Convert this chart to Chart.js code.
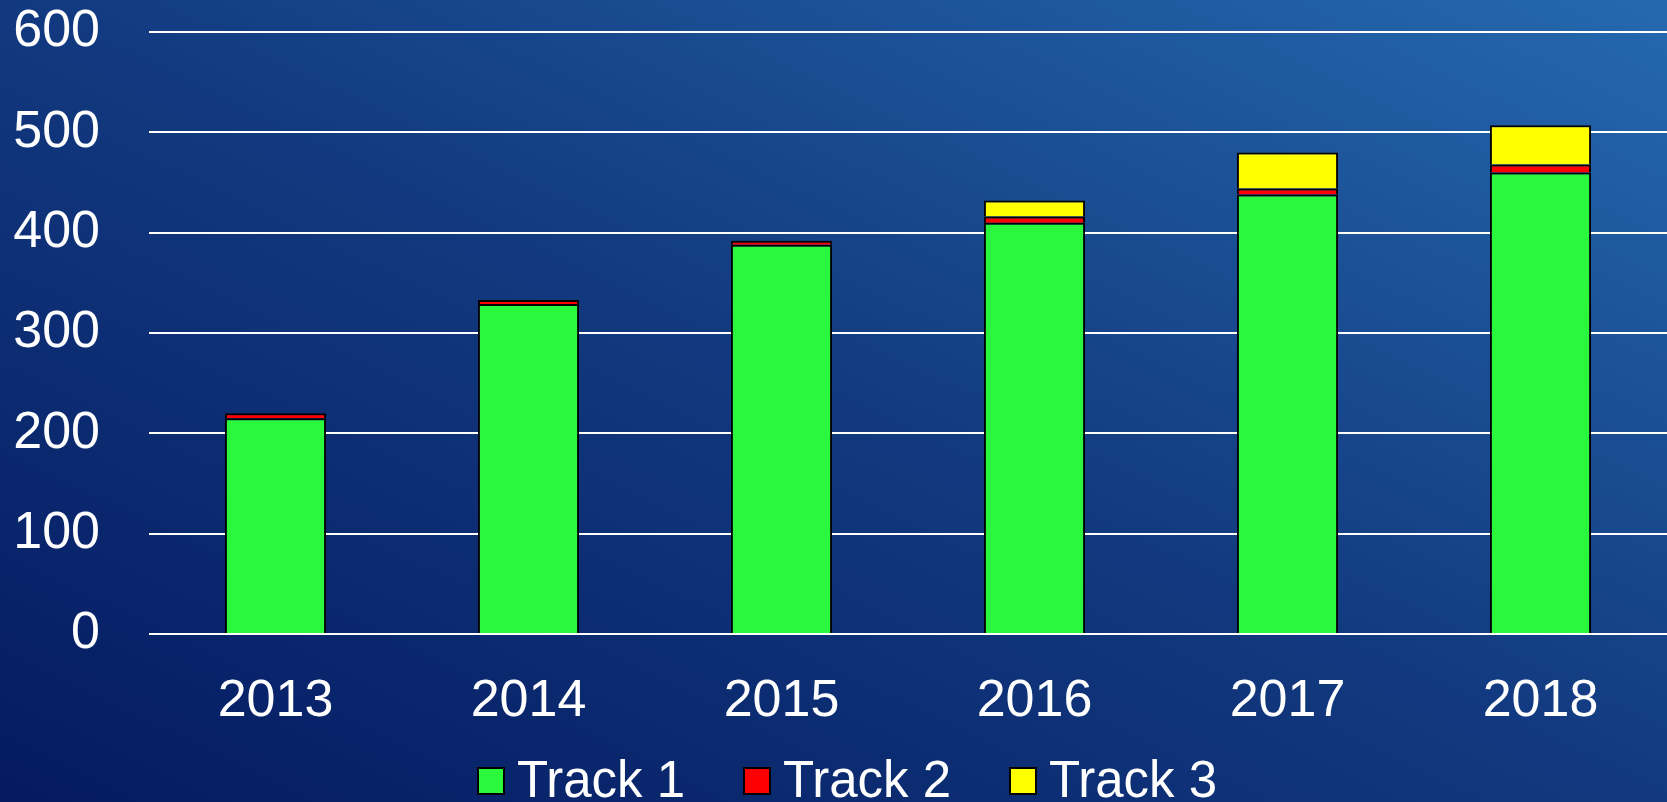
<!DOCTYPE html>
<html>
<head>
<meta charset="utf-8">
<script src="https://cdn.jsdelivr.net/npm/chart.js@4/dist/chart.umd.min.js"></script>
<style>
    html, body {
        margin: 0;
        padding: 0;
        width: 1667px;
        height: 802px;
        overflow: hidden;
    }
    body {
        background: linear-gradient(to top right, #041a60 0%, #12397f 50%, #2569ae 100%);
        position: relative;
    }
    #wrap {
        position: absolute;
        left: 0;
        top: 0;
        width: 1667px;
        height: 802px;
    }
    #legend {
        position: absolute;
        left: 477px;
        top: 754px;
        display: flex;
        font-family: "Liberation Sans", Arial, sans-serif;
        font-size: 51px;
        color: #fff;
        line-height: 51px;
        white-space: nowrap;
    }
    .item {
        width: 266px;
        display: flex;
        align-items: flex-start;
    }
    .box {
        width: 24px;
        height: 24px;
        border: 2px solid #000;
        margin-right: 12px;
        margin-top: 13px;
    }
</style>
</head>
<body>
<div id="wrap"><canvas id="statsChart" width="1667" height="802"></canvas></div>
<div id="legend"></div>
<script>
const years = ["2013", "2014", "2015", "2016", "2017", "2018"];
const track1 = [215, 329, 388, 410, 438, 460];
const track2 = [5, 4, 4, 6, 6, 8];
const track3 = [0, 0, 0, 16, 36, 39];
const yTicks = [0, 100, 200, 300, 400, 500, 600];

const axisFont = {
    size: 52,
    family: "'Liberation Sans', Arial, sans-serif",
};

// bordure en haut et sur les cotes seulement (comme excel)
const barBorder = { top: 2, right: 2, bottom: 0, left: 2 };

const ctx = document.getElementById("statsChart").getContext("2d");

const chart = new Chart(ctx, {
    type: "bar",
    data: {
        labels: years,
        datasets: [
            {
                label: "Track 1",
                data: track1,
                backgroundColor: "rgb(42, 248, 60)",
                borderColor: "#000",
                borderWidth: barBorder,
                borderSkipped: false,
            },
            {
                label: "Track 2",
                data: track2,
                backgroundColor: "rgb(255, 0, 0)",
                borderColor: "#000",
                borderWidth: barBorder,
                borderSkipped: false,
            },
            {
                label: "Track 3",
                data: track3,
                backgroundColor: "rgb(255, 255, 0)",
                borderColor: "#000",
                borderWidth: barBorder,
                borderSkipped: false,
            },
        ],
    },
    options: {
        responsive: false,
        maintainAspectRatio: false,
        animation: false,
        categoryPercentage: 1,
        barPercentage: 0.4,
        plugins: {
            legend: { display: false },
            tooltip: { enabled: false },
        },
        layout: {
            padding: {
                top: 32,
                bottom: 0,
                left: 0,
                right: 0,
            },
        },
        scales: {
            x: {
                stacked: true,
                grid: { display: false },
                border: { display: false },
                ticks: {
                    color: "#fff",
                    padding: 28,
                    maxRotation: 0,
                    font: axisFont,
                },
                afterFit: (scale) => {
                    scale.height = 168;
                    scale.paddingLeft = 0;
                    scale.paddingRight = 0;
                },
            },
            y: {
                stacked: true,
                min: 0,
                max: 600,
                afterBuildTicks: (scale) => {
                    scale.ticks = yTicks.map((v) => ({ value: v }));
                },
                grid: {
                    color: "#fff",
                    lineWidth: 2,
                    drawTicks: false,
                },
                border: { display: false },
                ticks: {
                    color: "#fff",
                    padding: 49,
                    font: axisFont,
                },
                afterFit: (scale) => {
                    scale.width = 149;
                    scale.paddingTop = 0;
                    scale.paddingBottom = 0;
                },
            },
        },
    },
});

// legende en html, construite depuis les datasets
const legend = document.getElementById("legend");
chart.data.datasets.forEach((ds) => {
    const item = document.createElement("div");
    item.className = "item";
    const box = document.createElement("span");
    box.className = "box";
    box.style.background = ds.backgroundColor;
    const txt = document.createElement("span");
    txt.textContent = ds.label;
    item.appendChild(box);
    item.appendChild(txt);
    legend.appendChild(item);
});
</script>
</body>
</html>
